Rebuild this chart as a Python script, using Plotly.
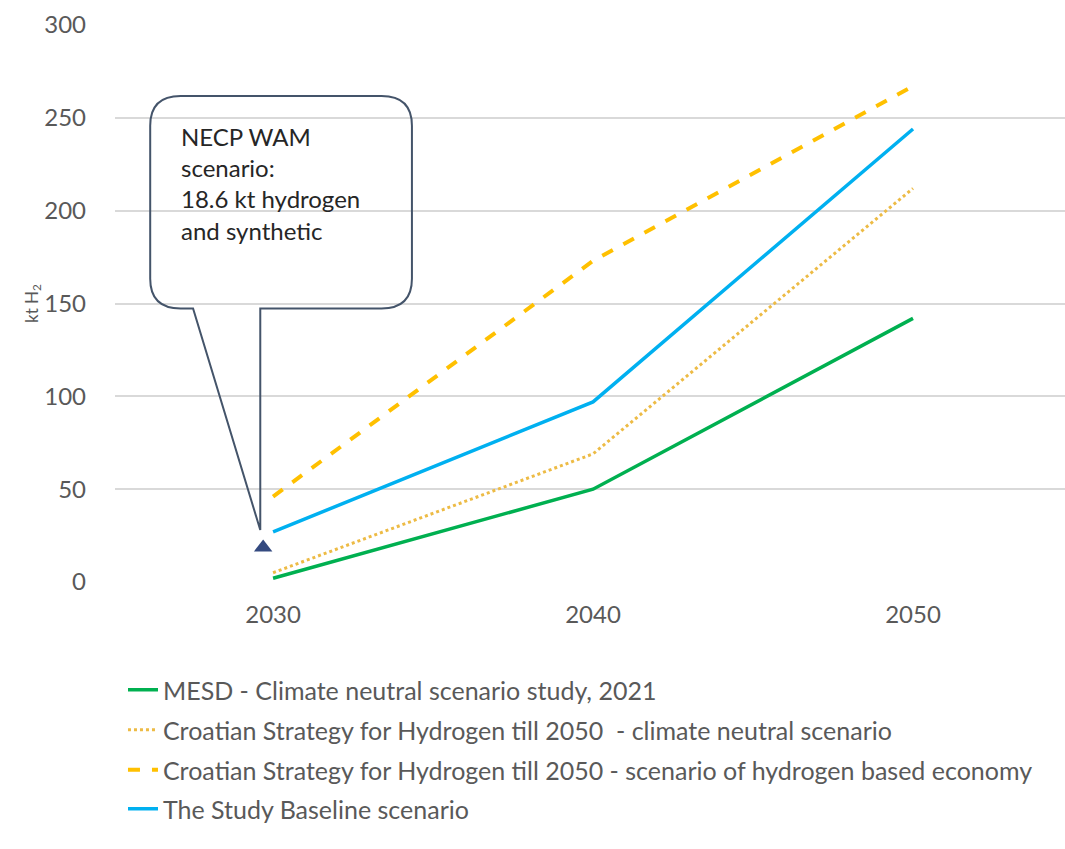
import plotly.graph_objects as go

# Hydrogen demand projections, kt H2
years = [2030, 2040, 2050]
mesd_climate_neutral = [2, 50, 142]
strategy_climate_neutral = [5, 69, 212]
strategy_hydrogen_economy = [46, 173, 267]
study_baseline = [27, 97, 244]

necp_year = [2030]
necp_wam = [18.6]

series_names = [
    "MESD - Climate neutral scenario study, 2021",
    "Croatian Strategy for Hydrogen till 2050  - climate neutral scenario",
    "Croatian Strategy for Hydrogen till 2050 - scenario of hydrogen based economy",
    "The Study Baseline scenario",
]
y_ticks = [0, 50, 100, 150, 200, 250, 300]

FONT = "Lato"
GREY = "#595959"
X_RANGE = [2025.06, 2054.75]

fig = go.Figure()

styles = [
    dict(color="#00B050", width=3.5, dash="solid"),
    dict(color="#EDBB45", width=3, dash="dot"),
    dict(color="#FFC000", width=4, dash="dash"),
    dict(color="#00B0F0", width=3.5, dash="solid"),
]
values = [mesd_climate_neutral, strategy_climate_neutral,
          strategy_hydrogen_economy, study_baseline]
legend_ids = ["legend", "legend2", "legend3", "legend4"]

for name, vals, st, lg in zip(series_names, values, styles, legend_ids):
    fig.add_trace(go.Scatter(
        x=years, y=vals, mode="lines", name=name,
        line=st, legend=lg,
    ))

# NECP WAM point, on a secondary (hidden) category axis like the source workbook
fig.add_trace(go.Scatter(
    x=necp_year, y=necp_wam, mode="markers", showlegend=False,
    xaxis="x2",
    marker=dict(symbol="triangle-up", size=16, color="#344A80"),
))

# Speech-bubble callout around the NECP note (data coordinates)
x0, x1 = 2026.16, 2034.34
y0, y1 = 147.3, 261.7
rx, ry = 0.95, 16.0
tail_l, tail_r = 2027.5, 2029.6
tip_y = 28.0
path = (
    f"M {x0+rx},{y1} L {x1-rx},{y1} Q {x1},{y1} {x1},{y1-ry} "
    f"L {x1},{y0+ry} Q {x1},{y0} {x1-rx},{y0} "
    f"L {tail_r},{y0} L {tail_r},{tip_y} L {tail_l},{y0} "
    f"L {x0+rx},{y0} Q {x0},{y0} {x0},{y0+ry} "
    f"L {x0},{y1-ry} Q {x0},{y1} {x0+rx},{y1} Z"
)
fig.add_shape(type="path", path=path, xref="x", yref="y",
              line=dict(color="#44546A", width=2), fillcolor="rgba(255,255,255,0)")

fig.add_annotation(
    x=2027.06, y=249, xref="x", yref="y", xanchor="left", yanchor="top",
    text="NECP WAM<br>scenario:<br>18.6 kt hydrogen<br>and synthetic",
    showarrow=False, align="left",
    font=dict(family=FONT, size=24, color="#262626"),
)

legend_common = dict(
    orientation="v", xanchor="left", yanchor="middle",
    font=dict(family=FONT, size=25, color=GREY),
    bgcolor="rgba(0,0,0,0)", itemwidth=30,
)
legend_y_px = [690, 730, 770, 809]
plot_top, plot_bottom = 25, 582
layout_legends = {}
for lg, ypx in zip(legend_ids, legend_y_px):
    ypaper = (plot_bottom - ypx) / (plot_bottom - plot_top)
    layout_legends[lg] = dict(legend_common, x=0.0084, y=ypaper)

fig.update_layout(
    width=1065, height=849,
    margin=dict(l=115, r=0, t=plot_top, b=849 - plot_bottom, pad=0),
    paper_bgcolor="white", plot_bgcolor="white",
    font=dict(family=FONT, color=GREY),
    xaxis=dict(
        range=X_RANGE,
        tickvals=years, ticktext=[str(y) for y in years],
        showgrid=False, zeroline=False, showline=False,
        ticks="", ticklabelstandoff=16,
        tickfont=dict(family=FONT, size=24, color=GREY),
    ),
    xaxis2=dict(
        range=[X_RANGE[0] + 0.31, X_RANGE[1] + 0.31],
        overlaying="x", visible=False,
    ),
    yaxis=dict(
        range=[0, 300], tickvals=y_ticks,
        showgrid=True, gridcolor="#D9D9D9", gridwidth=2,
        zeroline=False, showline=False, ticks="",
        ticklabelstandoff=28,
        tickfont=dict(family=FONT, size=24, color=GREY),
        title=dict(text="kt H<sub>2</sub>", standoff=0,
                   font=dict(family=FONT, size=17, color=GREY)),
    ),
    **layout_legends,
)

fig.write_html("out.html")
